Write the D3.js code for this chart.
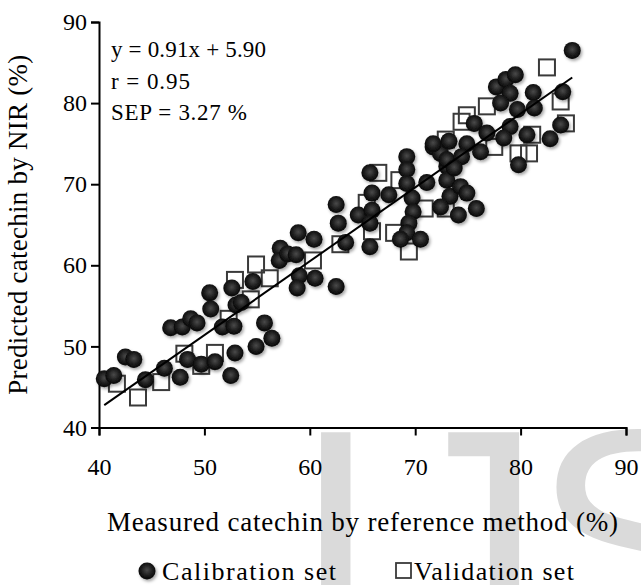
<!DOCTYPE html>
<html>
<head>
<meta charset="utf-8">
<script src="https://cdn.jsdelivr.net/npm/d3@7"></script>
<style>
  body { margin: 0; background: #fff; }
  svg { display: block; }
</style>
</head>
<body>
<svg id="chart" width="641" height="585"></svg>
<script>

// calibration set (filled circles): [measured, predicted]
var calibration = [
  [40.5,46.0],[41.4,46.4],[42.5,48.7],[43.3,48.4],[44.4,45.9],[46.2,47.3],[47.7,46.2],[48.4,48.4],
  [49.7,47.8],[51.0,48.1],[52.9,49.2],[52.5,46.4],[54.9,50.0],[56.4,51.0],[55.7,52.9],
  [46.8,52.3],[47.9,52.4],[48.7,53.4],[49.3,52.9],[51.7,52.4],[52.8,52.5],[50.6,54.6],[50.5,56.6],
  [53.0,55.1],[53.5,55.4],[52.6,57.2],[54.6,58.0],
  [57.2,62.1],[57.1,60.6],[57.9,61.4],[58.9,64.0],[60.4,63.2],[58.7,61.3],[59.0,58.7],[58.8,57.2],
  [60.5,58.4],[62.5,57.4],[62.7,65.2],[63.4,62.8],
  [62.5,67.5],[64.6,66.2],[65.7,71.4],[65.9,68.9],[65.9,66.8],[65.7,65.2],[65.7,62.3],[67.5,68.7],
  [69.2,73.4],[69.2,71.8],[69.2,70.1],[69.7,68.3],[69.8,66.6],[69.4,65.2],[69.2,64.0],[68.6,63.2],
  [70.5,63.2],[71.1,70.2],[71.7,74.6],[73.0,72.2],[73.0,70.5],[73.3,68.5],[74.3,69.7],[74.9,68.9],
  [72.4,67.2],[74.1,66.2],[75.8,67.0],[72.4,73.8],[73.0,73.0],
  [71.7,75.0],[73.2,75.3],[74.9,75.0],[76.2,74.0],[74.4,73.4],[73.7,72.0],[75.6,77.5],[76.8,76.3],
  [79.0,77.1],[78.4,75.7],[80.6,76.1],[82.8,75.6],[79.8,72.4],
  [77.7,82.0],[78.6,82.9],[79.5,83.5],[79.0,81.2],[81.2,81.3],[78.1,80.0],[79.7,79.2],[81.3,79.4],
  [84.0,81.4],[83.8,77.3],[84.9,86.5]
];

// validation set (open squares)
var validation = [
  [41.7,45.4],[43.7,43.7],[45.9,45.6],[48.1,49.1],[49.7,47.6],[51.0,49.2],[52.3,53.4],[52.9,58.2],
  [54.9,60.1],[56.2,58.4],[54.4,55.8],[60.3,60.6],[62.9,62.6],[65.9,64.2],[65.4,67.7],[66.5,71.4],
  [68.5,70.5],[68.0,64.0],[69.4,61.7],[70.9,67.0],[72.9,67.0],[72.9,75.5],[74.4,77.7],[74.9,78.5],
  [76.8,79.6],[77.5,74.6],[79.8,73.8],[80.8,73.8],[81.1,76.1],[82.5,84.4],[83.8,80.2],[84.3,77.5]
];

var xTicks = [40, 50, 60, 70, 80, 90];
var yTicks = [40, 50, 60, 70, 80, 90];
var slope = 0.91;
var intercept = 5.90;
var statsLines = ["y = 0.91x + 5.90", "r  = 0.95", "SEP =  3.27 %"];
var legendNames = ["Calibration set", "Validation set"];

var serif = "'Liberation Serif', 'Times New Roman', serif";

var svg = d3.select("#chart");

// faint watermark behind everything
var mark = svg.append("g")
    .attr("fill", "#dadada")
    .attr("font-family", "'Liberation Sans', Arial, sans-serif")
    .attr("font-size", 315);
mark.append("text").attr("x", 292).attr("y", 649).text("I");
mark.append("text").attr("x", 385).attr("y", 649).text("J");
mark.append("text").attr("x", 532).attr("y", 649).text("S");

var x = d3.scaleLinear().domain([40, 90]).range([99, 626]);
var y = d3.scaleLinear().domain([40, 90]).range([427.5, 22]);

// shading for the round markers
var defs = svg.append("defs");
var grad = defs.append("radialGradient")
    .attr("id", "ball")
    .attr("cx", "50%").attr("cy", "45%").attr("r", "55%");
grad.append("stop").attr("offset", "0%").attr("stop-color", "#4a4a4a");
grad.append("stop").attr("offset", "60%").attr("stop-color", "#1c1c1c");
grad.append("stop").attr("offset", "100%").attr("stop-color", "#050505");

var shadow = defs.append("filter")
    .attr("id", "shadow")
    .attr("x", "-50%").attr("y", "-50%").attr("width", "200%").attr("height", "200%");
shadow.append("feDropShadow")
    .attr("dx", 1.5).attr("dy", 2)
    .attr("stdDeviation", 1.6)
    .attr("flood-color", "#000")
    .attr("flood-opacity", 0.35);

// axes
var xAxis = d3.axisBottom(x).tickValues(xTicks).tickSize(8).tickPadding(22);
var yAxis = d3.axisLeft(y).tickValues(yTicks).tickSize(8).tickPadding(4);

var gx = svg.append("g")
    .attr("transform", "translate(0," + y(40) + ")")
    .call(xAxis);
var gy = svg.append("g")
    .attr("transform", "translate(" + x(40) + ",0)")
    .call(yAxis);

[gx, gy].forEach(function(g) {
    g.select(".domain").attr("stroke", "#000").attr("stroke-width", 2);
    g.selectAll(".tick line").attr("stroke", "#000").attr("stroke-width", 2);
    g.selectAll(".tick text")
        .attr("fill", "#000")
        .attr("font-family", serif)
        .attr("font-size", 24);
});
gx.selectAll(".tick text").attr("dy", "0.71em");

// validation squares sit under the circles
svg.append("g")
    .selectAll("rect")
    .data(validation)
    .enter()
    .append("rect")
        .attr("x", function(d) { return x(d[0]) - 8; })
        .attr("y", function(d) { return y(d[1]) - 8; })
        .attr("width", 16)
        .attr("height", 16)
        .attr("fill", "none")
        .attr("stroke", "#3a3a3a")
        .attr("stroke-width", 2);

svg.append("g")
    .attr("filter", "url(#shadow)")
    .selectAll("circle")
    .data(calibration)
    .enter()
    .append("circle")
        .attr("cx", function(d) { return x(d[0]); })
        .attr("cy", function(d) { return y(d[1]); })
        .attr("r", 8.5)
        .attr("fill", "url(#ball)");

// regression line over the calibration range
var xr = d3.extent(calibration, function(d) { return d[0]; });
svg.append("line")
    .attr("x1", x(xr[0])).attr("y1", y(slope * xr[0] + intercept))
    .attr("x2", x(xr[1])).attr("y2", y(slope * xr[1] + intercept))
    .attr("stroke", "#000")
    .attr("stroke-width", 2);

// fit statistics
svg.append("g")
    .selectAll("text")
    .data(statsLines)
    .enter()
    .append("text")
        .attr("x", 111)
        .attr("y", function(d, i) { return 57 + i * 31.5; })
        .attr("font-family", serif)
        .attr("font-size", 23)
        .attr("fill", "#000")
        .attr("textLength", function(d, i) { return [155, 79, 136][i]; })
        .attr("lengthAdjust", "spacing")
        .text(function(d) { return d; });

// axis titles
svg.append("text")
    .attr("x", (x(40) + x(90)) / 2)
    .attr("y", 531)
    .attr("text-anchor", "middle")
    .attr("font-family", serif)
    .attr("font-size", 27)
    .attr("textLength", 511)
    .attr("lengthAdjust", "spacing")
    .text("Measured catechin by reference method (%)");

svg.append("text")
    .attr("transform", "translate(27," + ((y(40) + y(90)) / 2) + ") rotate(-90)")
    .attr("text-anchor", "middle")
    .attr("font-family", serif)
    .attr("font-size", 27)
    .attr("textLength", 340)
    .attr("lengthAdjust", "spacing")
    .text("Predicted catechin by NIR (%)");

// legend
var legend = svg.append("g");
legend.append("circle")
    .attr("cx", 147).attr("cy", 571).attr("r", 8.5)
    .attr("fill", "url(#ball)")
    .attr("filter", "url(#shadow)");
legend.append("rect")
    .attr("x", 396).attr("y", 563).attr("width", 15).attr("height", 15)
    .attr("fill", "none")
    .attr("stroke", "#3a3a3a")
    .attr("stroke-width", 1.8);
legend.selectAll("text")
    .data(legendNames)
    .enter()
    .append("text")
        .attr("x", function(d, i) { return i == 0 ? 162 : 414; })
        .attr("y", 580)
        .attr("font-family", serif)
        .attr("font-size", 26)
        .attr("textLength", function(d, i) { return i == 0 ? 174 : 160; })
        .attr("lengthAdjust", "spacing")
        .text(function(d) { return d; });

</script>
</body>
</html>
